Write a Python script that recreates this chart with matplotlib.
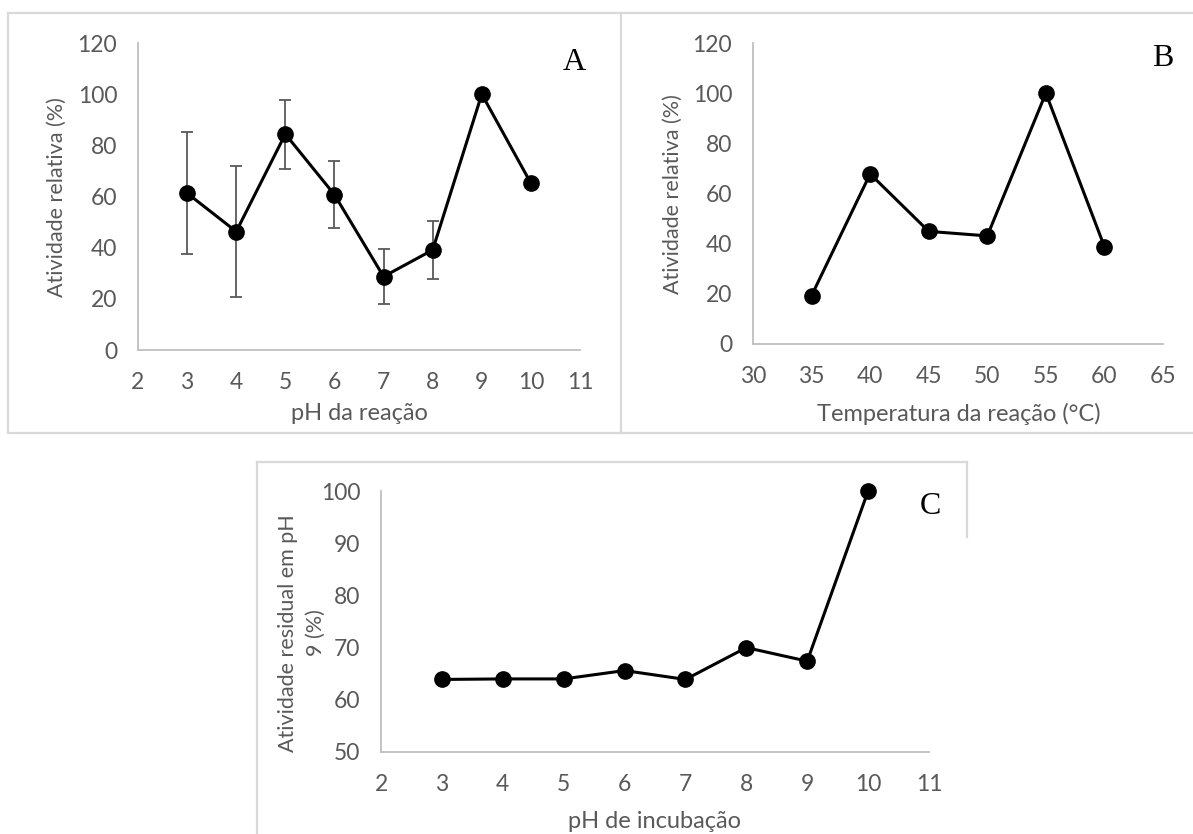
import numpy as np
import matplotlib
matplotlib.use("Agg")
import matplotlib.pyplot as plt
from matplotlib.lines import Line2D

# data
ph_reacao = [3, 4, 5, 6, 7, 8, 9, 10]
ativ_ph = [61.3, 46.3, 84.4, 60.7, 28.7, 39.1, 100, 65.2]
erro_ph = [23.8, 25.7, 13.5, 13.0, 10.7, 11.2, 0, 0]

temp_reacao = [35, 40, 45, 50, 55, 60]
ativ_temp = [19.3, 67.8, 44.9, 43.1, 100, 38.8]

ph_incub = [3, 4, 5, 6, 7, 8, 9, 10]
ativ_resid = [63.9, 64, 64, 65.6, 63.9, 70, 67.4, 100]

W, H = 1193, 834
fig = plt.figure(figsize=(W / 100, H / 100), dpi=100)

tick_col = '#595959'
spine_col = '#bfbfbf'
frame_col = '#d9d9d9'
sans = 'Lato'


def box(l, t, r, b):
    # axes rectangle from pixel edges
    return [l / W, (H - b) / H, (r - l) / W, (b - t) / H]


def fx(x, y):
    return x / W, (H - y) / H


def frame_line(x0, y0, x1, y1):
    a, b = fx(x0, y0)
    c, d = fx(x1, y1)
    fig.add_artist(Line2D([a, c], [b, d], color=frame_col, lw=1.6,
                          transform=fig.transFigure))


def style(ax, xlim, ylim, xticks, yticks):
    ax.set_xlim(*xlim)
    ax.set_ylim(*ylim)
    ax.set_xticks(xticks)
    ax.set_yticks(yticks)
    for s in ['top', 'right']:
        ax.spines[s].set_visible(False)
    for s in ['left', 'bottom']:
        ax.spines[s].set_color(spine_col)
        ax.spines[s].set_linewidth(1.3)
    ax.tick_params(axis='both', length=0, labelsize=16.5, labelcolor=tick_col)
    ax.tick_params(axis='x', pad=16)
    ax.tick_params(axis='y', pad=15)
    for lab in ax.get_xticklabels() + ax.get_yticklabels():
        lab.set_fontfamily(sans)
    ax.patch.set_alpha(0)


# outer frames
frame_line(8, 13, W, 13)
frame_line(8, 13, 8, 433)
frame_line(8, 433, W, 433)
frame_line(621, 13, 621, 433)
frame_line(257, 462, 967, 462)
frame_line(257, 462, 257, H)
frame_line(967, 462, 967, 537)

line_kw = dict(color='black', lw=2.2, marker='o', markersize=11, clip_on=False, zorder=3)
xlab_kw = dict(ha='center', va='center', fontsize=17, color=tick_col, family=sans)
ylab_kw = dict(ha='center', va='center', rotation=90, fontsize=15.5, color=tick_col, family=sans)

# A - pH da reacao
axA = fig.add_axes(box(138, 43, 580, 350))
style(axA, (2, 11), (0, 120), range(2, 12), range(0, 121, 20))
axA.errorbar(ph_reacao[:6], ativ_ph[:6], yerr=erro_ph[:6], fmt='none',
             ecolor='#595959', elinewidth=1.3, capsize=4, capthick=1.3, zorder=2)
axA.plot(ph_reacao, ativ_ph, **line_kw)
fig.text(*fx(359, 414), 'pH da reação', **xlab_kw)
fig.text(*fx(57, 197), 'Atividade relativa (%)', **ylab_kw)
fig.text(*fx(574, 62), 'A', ha='center', va='center', fontsize=23,
         family='Liberation Serif')

# B - temperatura
axB = fig.add_axes(box(753, 43, 1163, 344))
style(axB, (30, 65), (0, 120), range(30, 66, 5), range(0, 121, 20))
axB.plot(temp_reacao, ativ_temp, **line_kw)
fig.text(*fx(959, 414), 'Temperatura da reação (°C)', **xlab_kw)
fig.text(*fx(673, 194), 'Atividade relativa (%)', **ylab_kw)
fig.text(*fx(1163, 58), 'B', ha='center', va='center', fontsize=23,
         family='Liberation Serif')

# C - pH de incubacao
axC = fig.add_axes(box(381, 491, 929, 752))
style(axC, (2, 11), (50, 100), range(2, 12), range(50, 101, 10))
axC.plot(ph_incub, ativ_resid, **line_kw)
fig.text(*fx(655, 822), 'pH de incubação', **xlab_kw)
fig.text(*fx(302, 633), 'Atividade residual em pH\n9 (%)', linespacing=1.5, **ylab_kw)
fig.text(*fx(930, 507), 'C', ha='center', va='center', fontsize=23,
         family='Liberation Serif')

fig.savefig('out.png', dpi=100)
